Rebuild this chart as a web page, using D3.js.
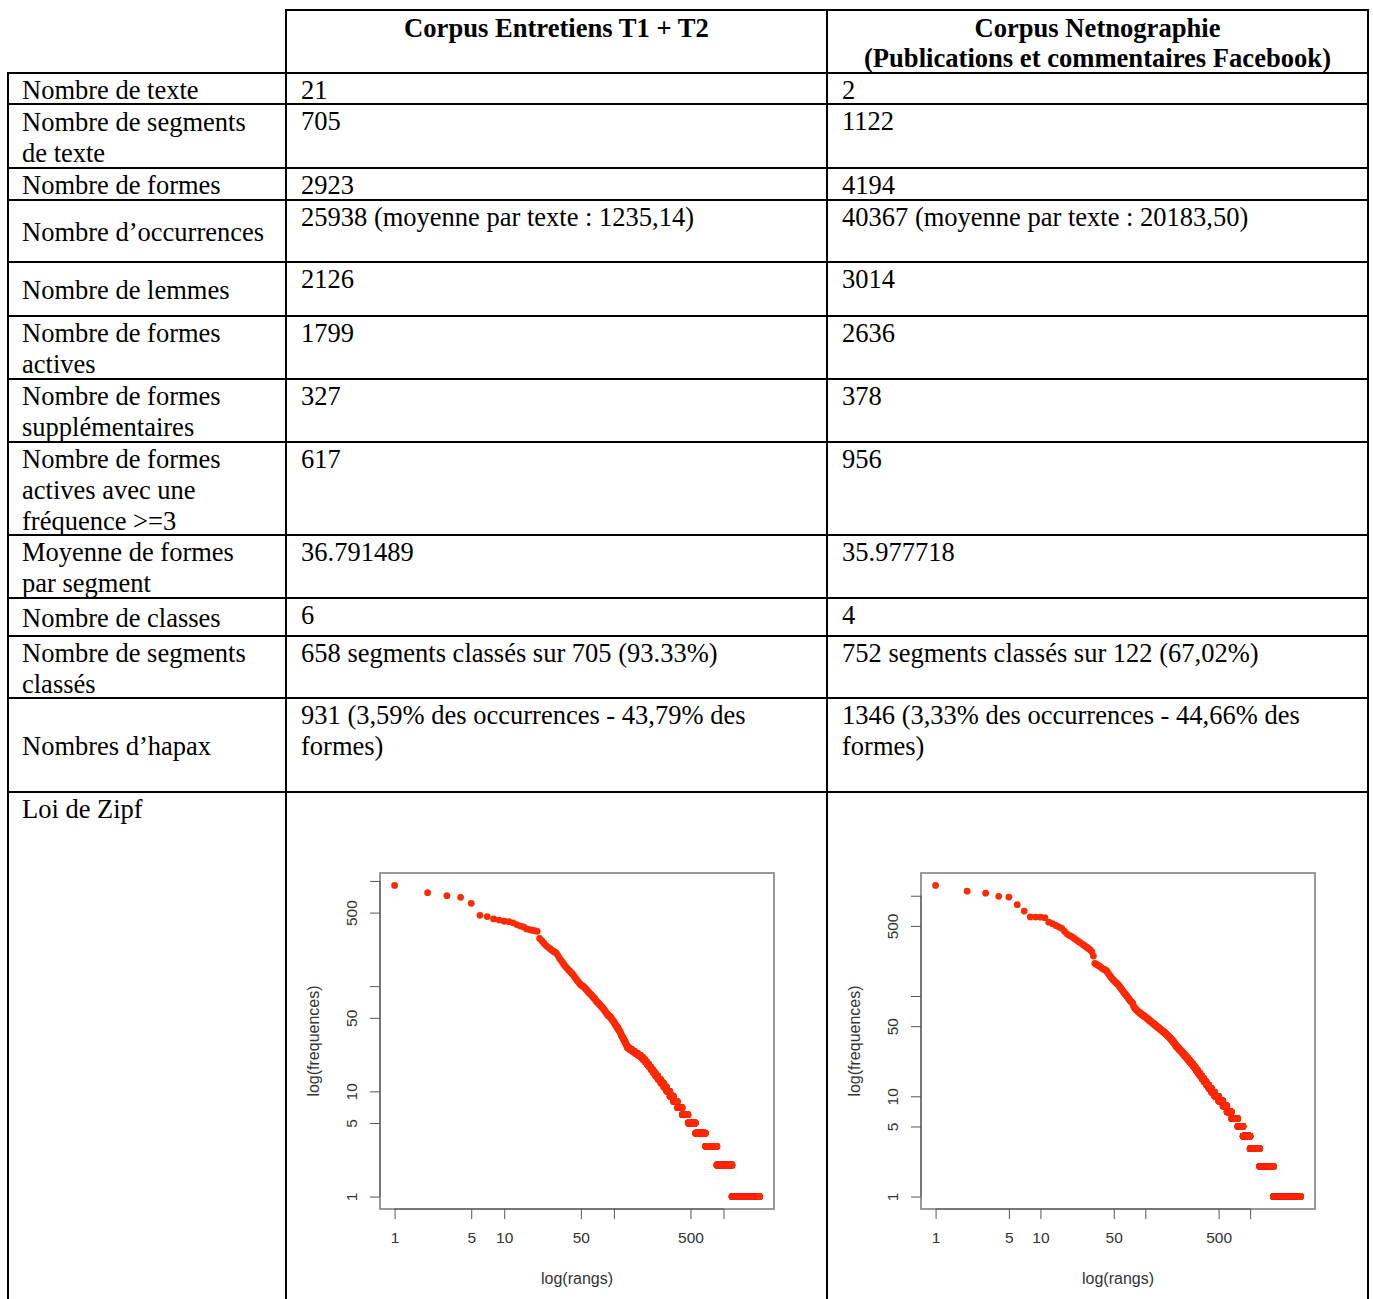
<!DOCTYPE html>
<html>
<head>
<meta charset="utf-8">
<script src="https://cdn.jsdelivr.net/npm/d3@7"></script>
<style>
  body { margin: 0; background: #fff; }
  svg { display: block; }
</style>
</head>
<body>
<svg id="chart"></svg>
<script>
// ---- table content ----
const headerLabels = [
    ["Corpus Entretiens T1 + T2"],
    ["Corpus Netnographie", "(Publications et commentaires Facebook)"]
];
const rowLabels = [
    ["Nombre de texte"],
    ["Nombre de segments", "de texte"],
    ["Nombre de formes"],
    ["Nombre d\u2019occurrences"],
    ["Nombre de lemmes"],
    ["Nombre de formes", "actives"],
    ["Nombre de formes", "suppl\u00e9mentaires"],
    ["Nombre de formes", "actives avec une", "fr\u00e9quence >=3"],
    ["Moyenne de formes", "par segment"],
    ["Nombre de classes"],
    ["Nombre de segments", "class\u00e9s"],
    ["Nombres d\u2019hapax"],
    ["Loi de Zipf"]
];
const entretiensValues = [
    ["21"], ["705"], ["2923"],
    ["25938 (moyenne par texte : 1235,14)"],
    ["2126"], ["1799"], ["327"], ["617"], ["36.791489"], ["6"],
    ["658 segments class\u00e9s sur 705 (93.33%)"],
    ["931 (3,59% des occurrences - 43,79% des", "formes)"],
    []
];
const netnoValues = [
    ["2"], ["1122"], ["4194"],
    ["40367 (moyenne par texte : 20183,50)"],
    ["3014"], ["2636"], ["378"], ["956"], ["35.977718"], ["4"],
    ["752 segments class\u00e9s sur 122 (67,02%)"],
    ["1346 (3,33% des occurrences - 44,66% des", "formes)"],
    []
];

// ---- Zipf data: frequencies of the top ranks, then frequency spectrum (freq, nb of forms) ----
const zipfTopEntretiens = [906, 773, 724, 698, 612, 471, 458, 435, 425, 414,
    410, 400, 385, 372, 365, 350, 345, 340, 336, 332,
    284, 270, 256, 244, 235, 228, 221, 215, 210, 205,
    194, 183, 176, 168, 161, 155, 150, 145, 141, 137,
    133, 130, 126, 122, 118, 114, 111, 108, 105, 103,
    101, 100, 99, 97, 95, 93, 91, 89, 87, 86,
    84, 83, 81, 80, 78, 77, 76, 74, 72, 71,
    70, 69, 68, 67, 66, 65, 64, 63, 62, 61,
    60, 59, 58, 57, 56, 55, 54, 53, 53, 52,
    52, 51, 51, 50, 49, 48, 48, 47, 46, 46,
    45, 44, 43, 43, 42, 41, 41, 40, 40, 39,
    38, 38, 37, 37];
const spectrumFreqEntretiens = [36, 35, 34, 33, 32, 31, 30, 29, 28, 27, 26, 25, 24, 23, 22, 21, 20, 19,
    18, 17, 16, 15, 14, 13, 12, 11, 10, 9, 8, 7, 6, 5, 4, 3, 2, 1];
const spectrumCountEntretiens = [1, 1, 2, 2, 2, 2, 2, 2, 2, 2, 6, 8, 9, 10, 11, 8, 8, 8,
    9, 9, 10, 11, 13, 15, 17, 18, 22, 25, 31, 40, 55, 80, 129, 186, 325, 931];

const zipfTopNetno = [1267, 1112, 1062, 986, 970, 815, 704, 615, 613, 612,
    605, 545, 527, 505, 488, 472, 440, 415, 400, 390,
    375, 362, 350, 340, 330, 321, 312, 303, 295, 287,
    275, 250, 212, 208, 204, 200, 196, 192, 188, 185,
    183, 181, 176, 170, 164, 159, 154, 150, 146, 143,
    140, 137, 135, 133, 130, 127, 124, 121, 118, 115,
    112, 110, 107, 105, 103, 101, 99, 97, 95, 93,
    91, 89, 88, 87, 86, 84, 80, 78, 76, 75,
    74, 73, 72, 71, 70, 70, 69, 68, 68, 67,
    66, 66, 65, 65, 64, 64, 63, 63, 62, 62];
const spectrumFreqNetno = [61, 60, 59, 58, 57, 56, 55, 54, 53, 52,
    51, 50, 49, 48, 47, 46, 45, 44, 43, 42,
    41, 40, 39, 38, 37, 36, 35, 34, 33, 32,
    31, 30, 29, 28, 27, 26, 25, 24, 23, 22, 21, 20, 19,
    18, 17, 16, 15, 14, 13, 12, 11, 10, 9, 8, 7, 6, 5, 4, 3, 2, 1];
const spectrumCountNetno = [2, 2, 2, 2, 2, 3, 2, 3, 2, 3,
    3, 3, 3, 4, 3, 4, 3, 4, 4, 4,
    4, 4, 4, 4, 4, 4, 4, 4, 4, 4,
    6, 6, 7, 7, 7, 7, 8, 9, 9, 10, 10, 11, 11,
    12, 13, 15, 16, 18, 22, 26, 30, 42, 50, 50, 64, 98, 93, 143, 231, 439, 1346];

const logTicks = [1, 5, 10, 50, 100, 500, 1000];
const logTickLabels = ["1", "5", "10", "50", "", "500", ""];

// ---- layout ----
const W = 1373, H = 1299;
const colX = [8, 286, 827, 1368];
const rowTops = [73, 104, 168, 200, 262, 316, 379, 442, 535, 598, 636, 698, 792, 1300];
const headerTop = 10;
const lineH = 31;
const plotBoxes = [
    { x: 380, y: 873, w: 394, h: 336 },
    { x: 921, y: 873, w: 394, h: 336 }
];

const svg = d3.select("#chart").attr("width", W).attr("height", H)
    .style("font-family", "'Liberation Serif', 'Times New Roman', serif");

// table lines
const grid = svg.append("g").attr("stroke", "#000").attr("stroke-width", 2);
grid.append("line").attr("x1", colX[1] - 1).attr("x2", colX[3] + 1).attr("y1", headerTop).attr("y2", headerTop);
rowTops.slice(0, -1).forEach(y => {
    grid.append("line").attr("x1", colX[0] - 1).attr("x2", colX[3] + 1).attr("y1", y).attr("y2", y);
});
grid.append("line").attr("x1", colX[0]).attr("x2", colX[0]).attr("y1", rowTops[0]).attr("y2", H);
[1, 2, 3].forEach(i => {
    grid.append("line").attr("x1", colX[i]).attr("x2", colX[i]).attr("y1", headerTop).attr("y2", H);
});

// header
headerLabels.forEach((lines, i) => {
    const cx = (colX[i + 1] + colX[i + 2]) / 2;
    lines.forEach((t, j) => {
        svg.append("text")
            .attr("x", cx).attr("y", headerTop + 27 + j * 30)
            .attr("text-anchor", "middle")
            .attr("font-size", "26.6px").attr("font-weight", "bold")
            .text(t);
    });
});

// body rows
rowLabels.forEach((lines, r) => {
    const top = rowTops[r], h = rowTops[r + 1] - top;
    const last = r === rowLabels.length - 1;
    const off = last ? 0 : Math.max(0, (h - lines.length * lineH) / 2);
    lines.forEach((t, j) => {
        svg.append("text").attr("x", colX[0] + 14).attr("y", top + off + 25.5 + j * lineH)
            .attr("font-size", "26.5px").text(t);
    });
    [entretiensValues[r], netnoValues[r]].forEach((vals, c) => {
        vals.forEach((t, j) => {
            svg.append("text").attr("x", colX[c + 1] + 15).attr("y", top + 26 + j * lineH)
                .attr("font-size", "26.5px").text(t);
        });
    });
});

// ---- Zipf plots ----
function buildRanks(top, freqs, counts) {
    const out = top.slice();
    freqs.forEach((f, i) => { for (let k = 0; k < counts[i]; k++) out.push(f); });
    return out.map((f, i) => ({ rank: i + 1, freq: f }));
}

function drawZipf(box, data) {
    const g = svg.append("g").style("font-family", "'Liberation Sans', Arial, sans-serif");
    const lx = [0, Math.log10(data.length)], ly = [0, Math.log10(d3.max(data, d => d.freq))];
    const ex = 0.04 * (lx[1] - lx[0]), ey = 0.04 * (ly[1] - ly[0]);
    const x = d3.scaleLog().domain([10 ** (lx[0] - ex), 10 ** (lx[1] + ex)]).range([box.x, box.x + box.w]);
    const y = d3.scaleLog().domain([10 ** (ly[0] - ey), 10 ** (ly[1] + ey)]).range([box.y + box.h, box.y]);

    g.append("g").selectAll("circle").data(data).enter().append("circle")
        .attr("cx", d => x(d.rank)).attr("cy", d => y(d.freq))
        .attr("r", 3.4).attr("fill", "#ff2a00");

    g.append("rect").attr("x", box.x).attr("y", box.y).attr("width", box.w).attr("height", box.h)
        .attr("fill", "none").attr("stroke", "#808080").attr("stroke-width", 1.6);

    // x axis
    const xa = g.append("g").attr("transform", `translate(0,${box.y + box.h})`)
        .call(d3.axisBottom(x).tickValues(logTicks).tickFormat((d, i) => logTickLabels[i]).tickSize(10).tickSizeOuter(0));
    xa.select(".domain").remove();
    xa.append("line").attr("x1", x(1)).attr("x2", x(1000)).attr("stroke", "#555");
    xa.selectAll(".tick line").attr("stroke", "#555");
    xa.selectAll("text").attr("font-size", "15.5px").attr("fill", "#333").attr("y", 23).attr("dy", "0.71em");

    // y axis
    const ya = g.append("g").attr("transform", `translate(${box.x},0)`)
        .call(d3.axisLeft(y).tickValues(logTicks).tickFormat((d, i) => logTickLabels[i]).tickSize(10).tickSizeOuter(0));
    ya.select(".domain").remove();
    ya.append("line").attr("y1", y(1)).attr("y2", y(1000)).attr("stroke", "#555");
    ya.selectAll(".tick line").attr("stroke", "#555");
    ya.selectAll("text").attr("font-size", "15.5px").attr("fill", "#333")
        .attr("x", 0).attr("dy", null).attr("text-anchor", "middle")
        .attr("transform", "translate(-23,0) rotate(-90)");

    g.append("text").attr("x", box.x + box.w / 2).attr("y", box.y + box.h + 75)
        .attr("text-anchor", "middle").attr("font-size", "16px").attr("fill", "#333").text("log(rangs)");
    g.append("text").attr("transform", `translate(${box.x - 61},${box.y + box.h / 2}) rotate(-90)`)
        .attr("text-anchor", "middle").attr("font-size", "16px").attr("fill", "#333").text("log(frequences)");
}

drawZipf(plotBoxes[0], buildRanks(zipfTopEntretiens, spectrumFreqEntretiens, spectrumCountEntretiens));
drawZipf(plotBoxes[1], buildRanks(zipfTopNetno, spectrumFreqNetno, spectrumCountNetno));
</script>
</body>
</html>
